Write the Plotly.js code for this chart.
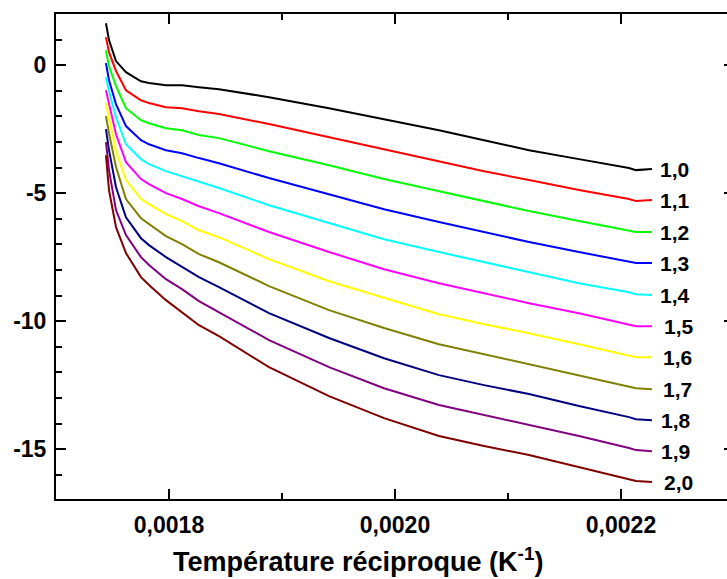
<!DOCTYPE html>
<html>
<head>
<meta charset="utf-8">
<script src="https://cdn.plot.ly/plotly-3.0.1.min.js"></script>
<style>
html, body { margin: 0; padding: 0; overflow: hidden; background: #fff; }
#chart { width: 734px; height: 579px; }
</style>
</head>
<body>
<div id="chart"></div>
<script>
// Reciprocal temperature (1/K)
const xRecip = [0.0017442, 0.0017469, 0.0017531, 0.0017619, 0.0017752, 0.0017823, 0.0017973, 0.0018115, 0.0018265, 0.0018442,
                0.0018885, 0.0019416, 0.0019903, 0.0020389, 0.0020788, 0.0021186, 0.0021628, 0.0022071, 0.0022133, 0.0022274];

const s10 = [1.64, 0.98, 0.16, -0.27, -0.63, -0.70, -0.78, -0.78, -0.86, -0.94, -1.25, -1.68, -2.11, -2.54, -2.93, -3.32, -3.67, -4.02, -4.10, -4.06];
const s11 = [1.09, 0.51, -0.23, -0.98, -1.37, -1.48, -1.64, -1.68, -1.80, -1.91, -2.30, -2.81, -3.28, -3.75, -4.14, -4.49, -4.88, -5.23, -5.31, -5.27];
const s12 = [0.59, -0.04, -0.82, -1.68, -2.15, -2.27, -2.46, -2.54, -2.73, -2.85, -3.36, -3.91, -4.45, -4.92, -5.31, -5.70, -6.09, -6.45, -6.52, -6.52];
const s13 = [0.08, -0.59, -1.52, -2.38, -2.93, -3.09, -3.32, -3.44, -3.63, -3.83, -4.41, -5.04, -5.63, -6.13, -6.52, -6.91, -7.30, -7.66, -7.73, -7.73];
const s14 = [-0.47, -1.02, -2.03, -3.09, -3.67, -3.87, -4.14, -4.34, -4.57, -4.80, -5.47, -6.17, -6.80, -7.30, -7.70, -8.09, -8.52, -8.87, -8.95, -8.98];
const s15 = [-0.98, -1.52, -2.70, -3.79, -4.45, -4.65, -5.00, -5.23, -5.51, -5.78, -6.52, -7.30, -7.97, -8.52, -8.91, -9.30, -9.69, -10.12, -10.20, -10.20];
const s16 = [-1.48, -2.07, -3.36, -4.49, -5.23, -5.43, -5.82, -6.09, -6.45, -6.72, -7.58, -8.44, -9.10, -9.73, -10.12, -10.47, -10.90, -11.33, -11.41, -11.41];
const s17 = [-1.99, -2.66, -3.98, -5.23, -5.98, -6.21, -6.68, -6.99, -7.38, -7.70, -8.63, -9.57, -10.27, -10.90, -11.29, -11.68, -12.11, -12.54, -12.62, -12.66];
const s18 = [-2.50, -3.32, -4.77, -5.94, -6.76, -7.03, -7.50, -7.89, -8.28, -8.67, -9.69, -10.66, -11.45, -12.11, -12.50, -12.85, -13.32, -13.75, -13.83, -13.87];
const s19 = [-3.01, -4.10, -5.66, -6.64, -7.50, -7.81, -8.36, -8.75, -9.22, -9.65, -10.74, -11.80, -12.62, -13.28, -13.67, -14.06, -14.49, -14.96, -15.04, -15.08];
const s20 = [-3.52, -4.88, -6.33, -7.34, -8.28, -8.59, -9.18, -9.65, -10.16, -10.59, -11.80, -12.93, -13.79, -14.49, -14.88, -15.23, -15.70, -16.17, -16.25, -16.29];

const seriesLabels = ["1,0", "1,1", "1,2", "1,3", "1,4", "1,5", "1,6", "1,7", "1,8", "1,9", "2,0"];
const seriesColors = ["#000000", "#ff0000", "#00ff00", "#0000ff", "#00ffff", "#ff00ff", "#ffff00", "#808000", "#000080", "#800080", "#800000"];
const labelShift = [6, 6, 6, 6, 6, 10, 9, 9, 7, 7, 10];

const xTickVals = [0.0018, 0.0020, 0.0022];
const xTickText = ["0,0018", "0,0020", "0,0022"];
const yTickVals = [-15, -10, -5, 0];
const yTickText = ["-15", "-10", "-5", "0"];

const allSeries = [s10, s11, s12, s13, s14, s15, s16, s17, s18, s19, s20];

const traces = allSeries.map((ys, i) => ({
  x: xRecip, y: ys, type: 'scatter', mode: 'lines',
  line: { color: seriesColors[i], width: 2 },
  showlegend: false, hoverinfo: 'skip'
}));

const FONT = "Liberation Sans, Arial, Helvetica, sans-serif";
const bold = t => '<b>' + t + '</b>';

const annotations = allSeries.map((ys, i) => ({
  x: xRecip[xRecip.length - 1], y: ys[ys.length - 1], xref: 'x', yref: 'y',
  text: bold(seriesLabels[i]), showarrow: false, xanchor: 'left', yanchor: 'middle',
  xshift: labelShift[i],
  font: { family: FONT, size: 21, color: '#000' }
}));

annotations.push({
  x: 0.445, y: 0, xref: 'paper', yref: 'paper', yanchor: 'bottom', xanchor: 'center',
  yshift: -80,
  text: bold('Température réciproque (K<sup>-1</sup>)'), showarrow: false,
  font: { family: FONT, size: 27, color: '#000' }
});

const layout = {
  width: 734, height: 579,
  margin: { l: 56, r: 0, t: 14, b: 80, pad: 0 },
  paper_bgcolor: '#fff', plot_bgcolor: '#fff',
  showlegend: false,
  xaxis: {
    range: [0.0017, 0.0023],
    tickmode: 'array', tickvals: xTickVals, ticktext: xTickText.map(bold),
    ticks: 'inside', ticklen: 10, tickwidth: 2, tickcolor: '#000',
    minor: { dtick: 0.0001, tick0: 0.0017, ticks: 'inside', ticklen: 6, tickwidth: 2, tickcolor: '#000', showgrid: false },
    showline: true, linecolor: '#000', linewidth: 2, mirror: 'ticks',
    showgrid: false, zeroline: false,
    ticklabelstandoff: 4,
    tickfont: { family: FONT, size: 23, color: '#000' }
  },
  yaxis: {
    range: [-16.95, 2.0],
    tickmode: 'array', tickvals: yTickVals, ticktext: yTickText.map(bold),
    ticks: 'inside', ticklen: 10, tickwidth: 2, tickcolor: '#000',
    minor: { dtick: 1, tick0: 0, ticks: 'inside', ticklen: 6, tickwidth: 2, tickcolor: '#000', showgrid: false },
    showline: true, linecolor: '#000', linewidth: 2, mirror: 'ticks',
    showgrid: false, zeroline: false,
    ticklabelstandoff: 3,
    tickfont: { family: FONT, size: 23, color: '#000' }
  },
  annotations: annotations
};

Plotly.newPlot('chart', traces, layout, { displayModeBar: false, staticPlot: true });
</script>
</body>
</html>
